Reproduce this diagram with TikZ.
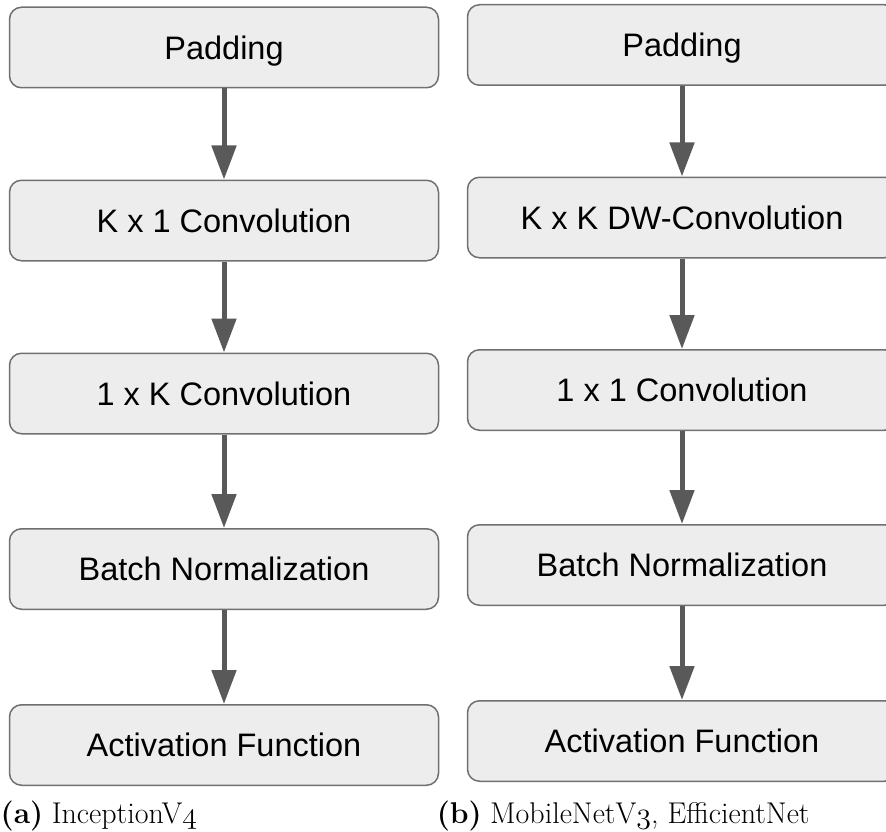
\RequirePackage{fix-cm}
\documentclass[tikz,border=0pt]{standalone}
\usepackage{fontspec}
\newfontfamily\boxfont{Liberation Sans}
\usetikzlibrary{arrows.meta}

\definecolor{boxfill}{HTML}{EDEDED}
\definecolor{boxline}{HTML}{707070}
\definecolor{arrowgray}{HTML}{595959}

% old-style figures taken from the math italic font
\newcommand\osnum[1]{{\fontencoding{OML}\fontfamily{cmm}\fontseries{m}\fontshape{it}\selectfont #1}}

\tikzset{
  block/.style={draw=boxline, line width=1.5pt, fill=boxfill, rounded corners=12pt,
    minimum width=429pt, minimum height=80.5pt, inner sep=0pt,
    font=\boxfont\fontsize{32.5}{39}\selectfont, text height=23.3pt, text depth=0pt},
  flow/.style={-{Triangle[width=24pt,length=34pt]}, line width=5pt, draw=arrowgray},
  caption/.style={inner sep=0pt, font=\fontsize{30}{36}\selectfont}
}

\begin{document}
\begin{tikzpicture}[x=1pt,y=-1pt]
  \path[use as bounding box, clip] (0,0) rectangle (886,832);

  % (a) InceptionV4 block
  \node[block] (a1) at (224,47.5)  {Padding};
  \node[block] (a2) at (224,220.5) {K x 1 Convolution};
  \node[block] (a3) at (224,393.5) {1 x K Convolution};
  \node[block] (a4) at (224,569)   {Batch Normalization};
  \node[block] (a5) at (224,745)   {Activation Function};

  % (b) MobileNetV3 / EfficientNet block
  \node[block] (b1) at (682,45)    {Padding};
  \node[block] (b2) at (682,217.5) {K x K DW-Convolution};
  \node[block] (b3) at (682,390)   {1 x 1 Convolution};
  \node[block] (b4) at (682,565)   {Batch Normalization};
  \node[block] (b5) at (682,741)   {Activation Function};

  \foreach \u/\v in {a1/a2,a2/a3,a3/a4,a4/a5,b1/b2,b2/b3,b3/b4,b4/b5}
    \draw[flow] (\u.south) -- (\v.north);

  % captions
  \node[caption, anchor=base west] (capa) at (0.5,823) {\textbf{(a)}};
  \node[caption, anchor=base west] (namea) at ([xshift=8pt]capa.base east) {InceptionV\osnum{4}};
  \node[caption, anchor=base east] (capb) at (482,823) {\textbf{(b)}};
  \node[caption, anchor=base west] (nameb) at ([xshift=8pt]capb.base east) {MobileNetV\osnum{3}, EfficientNet};
\end{tikzpicture}
\end{document}
